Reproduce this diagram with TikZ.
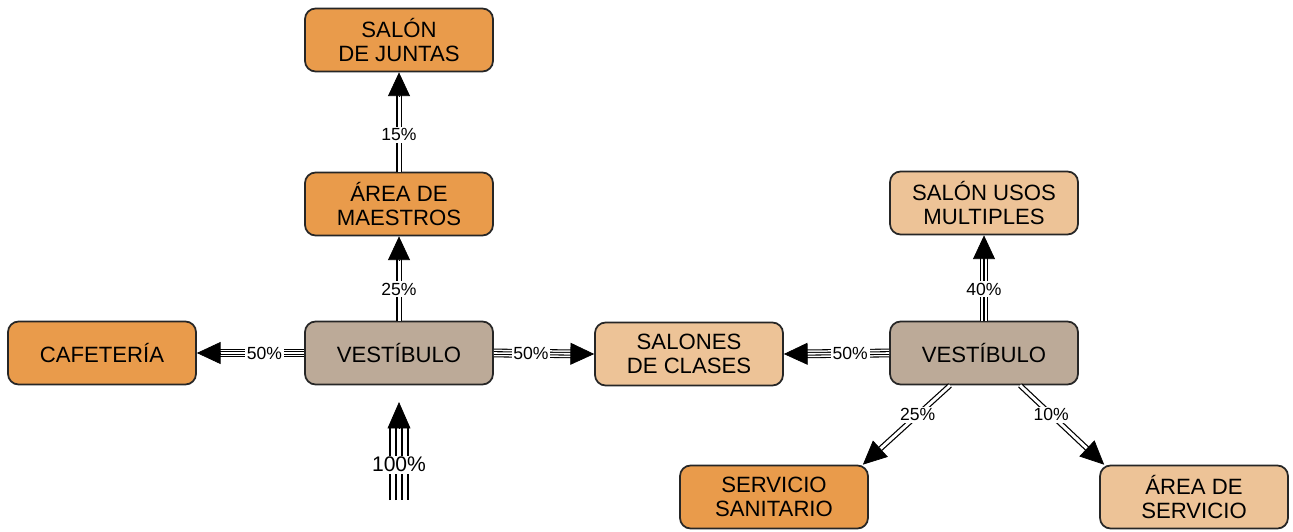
\documentclass[tikz,border=0pt]{standalone}
\usepackage{fontspec}
\setmainfont{Liberation Sans}
\usetikzlibrary{arrows.meta,calc}
\definecolor{naranja}{RGB}{233,155,75}
\definecolor{durazno}{RGB}{237,195,151}
\definecolor{grisvest}{RGB}{188,170,152}
\tikzset{
  caja/.style={draw=black!85, line width=1pt, rounded corners=6pt,
    minimum width=3.76cm, minimum height=1.26cm, align=center,
    font=\fontsize{12.6}{13.8}\selectfont},
  pct/.style={fill=white, inner sep=1pt, font=\fontsize{10}{12}\selectfont},
  dos/.style={double, double distance=1.7pt, line width=0.7pt, shorten >=12pt},
  tres/.style={line width=0.6pt, shorten >=12pt,
    preaction={draw, double, double distance=3.2pt, line width=0.6pt}},
  cuatro/.style={double, double distance=0.9pt, line width=0.6pt, shorten >=12pt,
    preaction={draw, double, double distance=3.8pt, line width=0.6pt}},
  ancho/.style={double, double distance=2.6pt, line width=0.9pt, shorten >=13pt,
    preaction={draw, double, double distance=9.1pt, line width=0.9pt}},
  punta/.style={-{Triangle[length=13.5pt,width=12.5pt]}}
}
\begin{document}
\begin{tikzpicture}[x=0.02cm,y=-0.02cm]
  \useasboundingbox[fill=white] (0,0) rectangle (1293,531);
  % cajas
  \node[caja,fill=naranja] (sj) at (399,40) {SALÓN\\DE JUNTAS};
  \node[caja,fill=naranja] (am) at (399,204) {ÁREA DE\\MAESTROS};
  \node[caja,fill=naranja] (caf) at (102,353) {CAFETERÍA};
  \node[caja,fill=grisvest] (v1) at (399,353) {VESTÍBULO};
  \node[caja,fill=durazno] (sc) at (689,354) {SALONES\\DE CLASES};
  \node[caja,fill=grisvest] (v2) at (984,353) {VESTÍBULO};
  \node[caja,fill=durazno] (um) at (984,203) {SALÓN USOS\\MULTIPLES};
  \node[caja,fill=naranja] (ss) at (774,497) {SERVICIO\\SANITARIO};
  \node[caja,fill=durazno] (as) at (1194,497) {ÁREA DE\\SERVICIO};
  % puntos libres
  \coordinate (acceso) at (399,500);
  \coordinate (llegada) at (399,402);
  \coordinate (d1) at ([xshift=-0.68cm]v2.south);
  \coordinate (e1) at ([xshift=-0.12cm]ss.north east);
  \coordinate (d2) at ([xshift=0.72cm]v2.south);
  \coordinate (e2) at ([xshift=0.1cm]as.north west);
  % flujos
  \foreach \ini/\fin/\est/\txt in {v1.north/am.south/dos/25\%,
      am.north/sj.south/dos/15\%, v1.west/caf.east/cuatro/50\%,
      v1.east/sc.west/cuatro/50\%, v2.west/sc.east/cuatro/50\%,
      v2.north/um.south/tres/40\%, d1/e1/dos/25\%, d2/e2/dos/10\%} {
    \draw[\est] (\ini) -- node[pct,pos=.37] {\txt} (\fin);
    \draw[punta] ($(\fin)!13.5pt!(\ini)$) -- (\fin);
  }
  \draw[ancho] (acceso) -- node[pct,pos=.36,font=\fontsize{12}{14}\selectfont] {100\%} (llegada);
  \draw[-{Triangle[length=15pt,width=13pt]}] ($(llegada)!15pt!(acceso)$) -- (llegada);
\end{tikzpicture}
\end{document}
